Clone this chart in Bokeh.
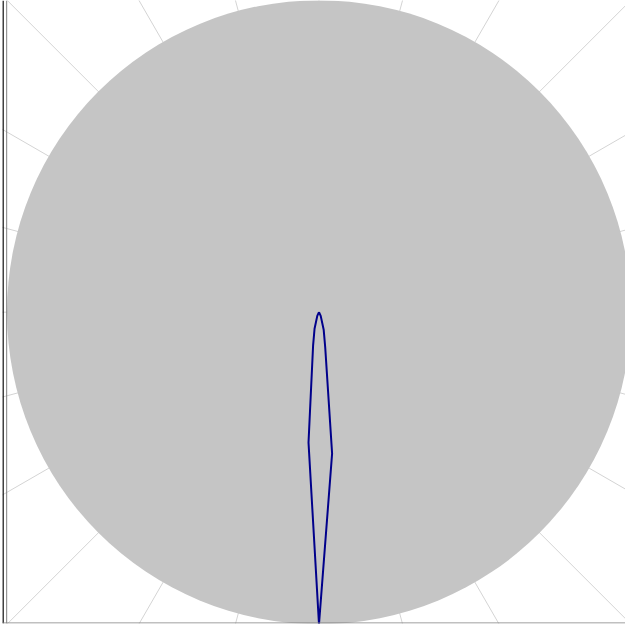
import numpy as np
from bokeh.plotting import figure
from bokeh.models import Range1d, Span
from bokeh.embed import file_html
from bokeh.resources import INLINE

# ---- data ----
beam_theta_deg = [230, 245, 255, 260, 265.4, 270, 275.3, 280, 285, 295, 310]
beam_r = [0.0, 0.013, 0.055, 0.109, 0.419, 1.0, 0.455, 0.115, 0.058, 0.013, 0.0]
grid_angles_deg = list(range(0, 360, 15))
r_max = 1.0

th = np.radians(beam_theta_deg)
bx = np.array(beam_r) * np.cos(th)
by = np.array(beam_r) * np.sin(th)

p = figure(width=625, height=625, output_backend="svg", toolbar_location=None,
           x_axis_type=None, y_axis_type=None,
           x_range=Range1d(-1.0144, 0.9824), y_range=Range1d(-0.9978, 0.999),
           min_border_left=2, min_border_right=0, min_border_top=0, min_border_bottom=2)
p.margin = (0, 0, 0, 0)
p.outline_line_color = None
p.background_fill_color = "white"
p.border_fill_color = "white"

# radial grid lines
p.ray(x=[0] * len(grid_angles_deg), y=[0] * len(grid_angles_deg),
      angle=grid_angles_deg, angle_units="deg", length=0,
      line_color="#d4d4d4", line_width=1)

# dense polar grid disc
p.circle(x=[0], y=[0], radius=r_max, fill_color="#c5c5c5", line_color=None)

# beam pattern
p.line(bx, by, line_color="#00008b", line_width=2)

# frame lines
p.add_layout(Span(location=-1.0128, dimension="height", line_color="black", line_width=1.5))
p.add_layout(Span(location=-1.001, dimension="height", line_color="#808080", line_width=1))
p.add_layout(Span(location=-0.9962, dimension="width", line_color="#808080", line_width=1))

open("out.html", "w").write(file_html(p, INLINE))
